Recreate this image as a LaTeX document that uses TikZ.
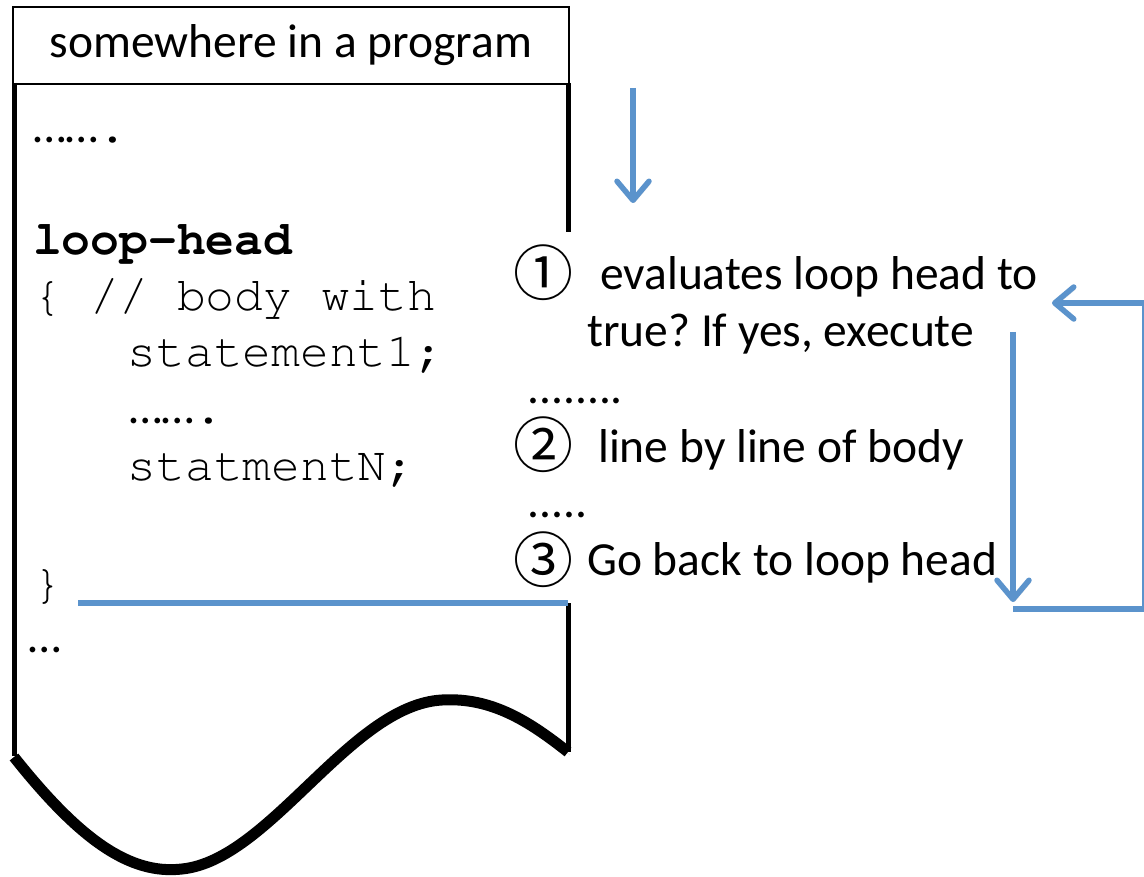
\documentclass[tikz,border=0pt]{standalone}
\usepackage{fontspec}
\setmainfont{Carlito}
\newfontfamily\cjk{Noto Sans CJK SC}
\newcommand\courierfont{\fontencoding{T1}\fontfamily{pcr}\selectfont}
\usetikzlibrary{arrows.meta}
\definecolor{flowblue}{RGB}{91,147,204}
\frenchspacing

\begin{document}
\begin{tikzpicture}[x=1pt,y=-1pt,
  txt/.style={inner sep=0pt, anchor=base west, font=\fontsize{47.5}{57}\selectfont},
  code/.style={inner sep=0pt, anchor=base west, font=\courierfont\fontsize{48}{57}\selectfont},
  num/.style={inner sep=0pt, anchor=center, font=\cjk\fontsize{60}{60}\selectfont},
  frame/.style={line width=5pt, black},
  flow/.style={line width=5.5pt, flowblue,
    preaction={draw=black, opacity=.15, transform canvas={shift={(1.5pt,-2.5pt)}}}},
  tip/.style={-{Straight Barb[length=19pt,width=32pt,line width=5.5pt,round]}}
]
\useasboundingbox (0,0) rectangle (1144,877);

% program sheet: title strip, side edges and torn bottom
\node[draw, line width=1.8pt, anchor=north west, minimum width=556pt, minimum height=77pt,
      inner sep=0pt, font=\fontsize{47.5}{57}\selectfont] (title) at (12,6) {somewhere in a program};
\draw[frame] (14,83) -- (14,756);
\draw[frame] (568,83) -- (568,232);
\draw[frame] (568,603) -- (568,752);
\draw[line width=11pt, preaction={draw=black, opacity=.15, transform canvas={shift={(2pt,-3pt)}}}]
  (14,757) .. controls (80,840) and (130,875) .. (182,869)
           .. controls (270,860) and (350,705) .. (442,700)
           .. controls (492,697) and (530,722) .. (568,752);

% code listing
\node[txt] (dotsA) at (33,143) {……\courierfont\fontsize{48}{57}\selectfont.};
\node[code, font=\courierfont\bfseries\fontsize{48}{57}\selectfont] (head) at (33,255) {loop-head};
\node[code] (open) at (33,311) {\{ // body with};
\node[code] (st1) at (41,367) {\ \ \ statement1;};
\node[txt] (dotsB) at (129,424) {……\courierfont\fontsize{48}{57}\selectfont.};
\node[code] (stN) at (41,480) {\ \ \ statmentN;};
\node[code] (close) at (33,598) {\}};
\node[txt] (dotsC) at (28,652) {…};

% loop end marker
\coordinate (endL) at (78,603);
\coordinate (endR) at (568,603);
\draw[flow] (endL) -- (endR);

% explanation steps
\node[num] (c1) at (543,273) {①};
\node[txt] (s1) at (600,290) {evaluates loop head to};
\node[txt] (s1b) at (587,347) {true? If yes, execute};
\node[txt] (d1) at (527,403) {........};
\node[num] (c2) at (543,445) {②};
\node[txt] (s2) at (598,462) {line by line of body};
\node[txt] (d2) at (527,517) {.....};
\node[num] (c3) at (543,560) {③};
\node[txt] (s3) at (587,575) {Go back to loop head};

% control flow arrows
\coordinate (inTop) at (633,88);
\coordinate (inBot) at (633,203);
\draw[flow, tip] (inTop) -- (inBot);

\coordinate (downTop) at (1013,332);
\coordinate (downBot) at (1013,602);
\draw[flow, tip] (downTop) -- (downBot);

\coordinate (backA) at (1013,609);
\coordinate (backB) at (1145,609);
\coordinate (backC) at (1145,303);
\coordinate (backD) at (1052,303);
\draw[flow, tip] (backA) -- (backB) -- (backC) -- (backD);
\end{tikzpicture}
\end{document}
